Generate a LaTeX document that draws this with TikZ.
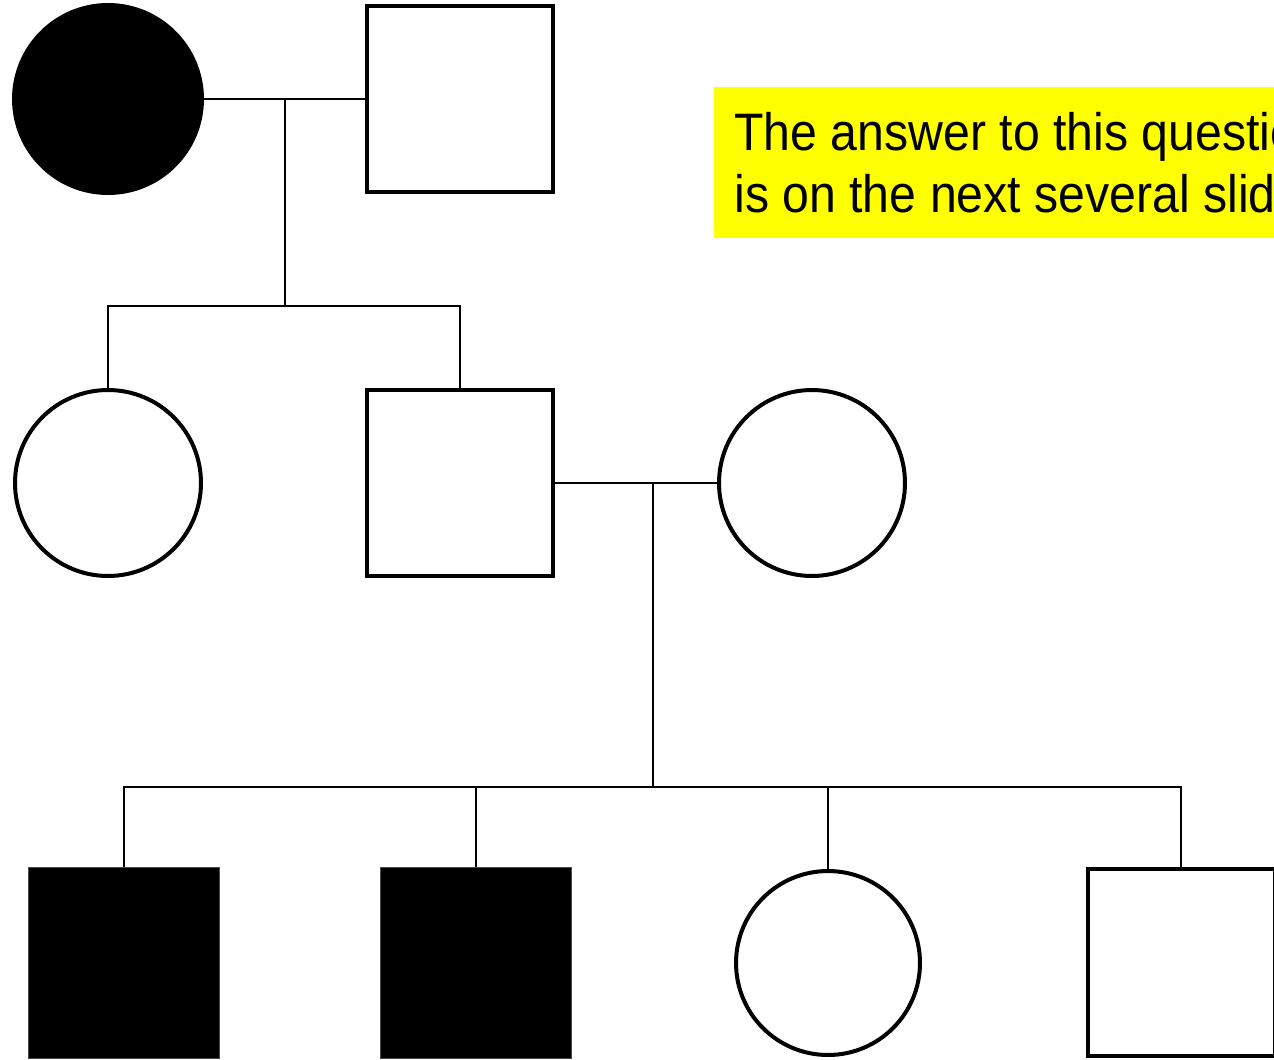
\documentclass[tikz,border=0pt]{standalone}
\usepackage{fontspec}
\setmainfont{Liberation Sans}
\newfontfamily\notefont[FakeStretch=0.915]{Liberation Sans}
\usetikzlibrary{positioning}
\definecolor{notebg}{RGB}{255,255,0}

\begin{document}
\begin{tikzpicture}[x=0.02cm,y=-0.02cm,
  female/.style={circle,draw,line width=0.08cm,minimum size=3.72cm,inner sep=0pt},
  male/.style={rectangle,draw,line width=0.08cm,minimum size=3.74cm,inner sep=0pt},
  affected/.style={fill=black,draw=black!70,line width=0.02cm,minimum size=3.82cm},
  link/.style={line width=0.04cm}]
\useasboundingbox (0,0) rectangle (1274,1059);
\clip (0,0) rectangle (1274,1059);

% first generation
\node[female,fill=black,minimum size=3.76cm] (gIa) at (108,99) {};
\node[male] (gIb) at (460,99) {};
% second generation
\node[female] (gIIa) at (108,483) {};
\node[male] (gIIb) at (460,483) {};
\node[female] (gIIc) at (812,483) {};
% third generation
\node[male,affected] (gIIIa) at (124,963) {};
\node[male,affected] (gIIIb) at (476,963) {};
\node[female,minimum size=3.68cm] (gIIIc) at (828,963) {};
\node[male] (gIIId) at (1181,962) {};

% matings and sibships
\coordinate (mI) at (285,99);
\coordinate (sI) at (285,306);
\coordinate (mII) at (653,483);
\coordinate (sII) at (653,787);
\draw[link] (gIa.east) -- (gIb.west);
\draw[link] (mI) -- (sI);
\draw[link] (gIIa.north) -- (gIIa.north |- sI) -- (gIIb.north |- sI) -- (gIIb.north);
\draw[link] (gIIb.east) -- (gIIc.west);
\draw[link] (mII) -- (sII);
\draw[link] (gIIIa.north) -- (gIIIa.north |- sII) -- (gIIId.north |- sII) -- (gIIId.north);
\draw[link] (gIIIb.north) -- (gIIIb.north |- sII);
\draw[link] (gIIIc.north) -- (gIIIc.north |- sII);

\node[fill=notebg,anchor=north west,align=left,inner xsep=0.4cm,inner ysep=0.5cm,
  font=\notefont\fontsize{30}{35}\selectfont] (note) at (714,87)
  {The answer to this question\\is on the next several slides};
\end{tikzpicture}
\end{document}
